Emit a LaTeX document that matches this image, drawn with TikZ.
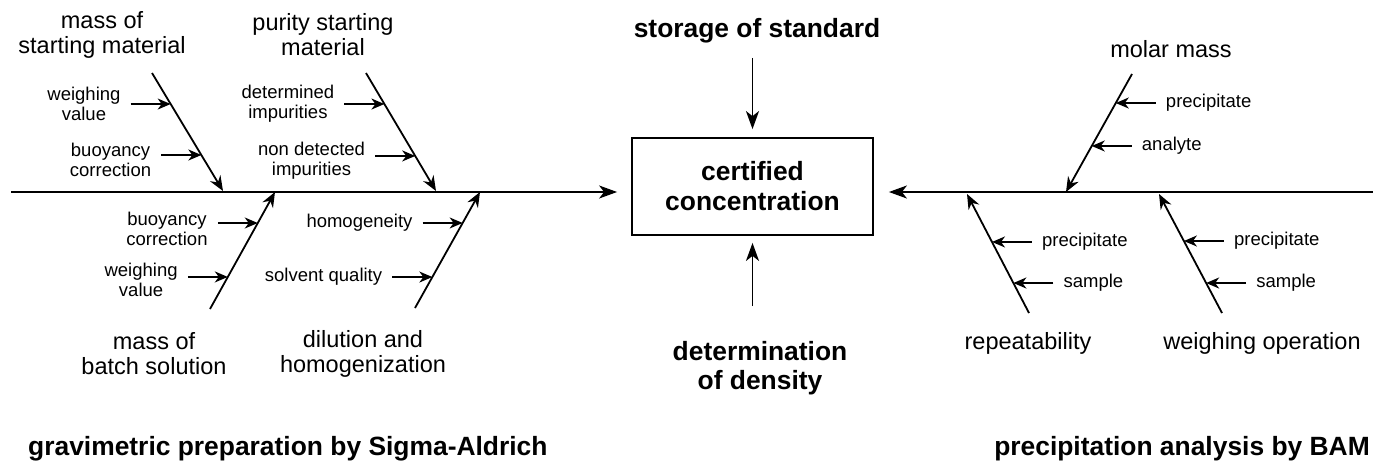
\documentclass[tikz,border=0pt]{standalone}
\usepackage{fontspec}
\setmainfont{Liberation Sans}
\usetikzlibrary{arrows.meta,positioning,calc}

\begin{document}
\begin{tikzpicture}[x=1pt,y=-1pt,
    spine/.style={line width=1.8pt, -{Stealth[length=18pt,width=13pt,inset=5pt]}},
    bone/.style={line width=1.8pt, -{Stealth[length=15pt,width=12pt,inset=5pt]}},
    branch/.style={line width=1.7pt, -{Stealth[length=13pt,width=11pt,inset=4pt]}},
    bigtxt/.style={font=\fontsize{23.5}{25}\selectfont, align=center, inner sep=0pt},
    smalltxt/.style={font=\fontsize{18.5}{20}\selectfont, align=center, inner xsep=10pt, inner ysep=0pt},
    boldtxt/.style={font=\fontsize{26.4}{29}\selectfont\bfseries, align=center, inner sep=0pt}]
    \useasboundingbox (0,0) rectangle (1373,461);

    % Effect box in the middle
    \node[boldtxt, draw, line width=1.8pt, minimum width=241pt, minimum height=97pt,
          font=\fontsize{26.4}{30}\selectfont\bfseries] (cc) at (752.5,186.5) {certified\\concentration};

    % Spines from left and right
    \coordinate (ls) at (11,192);
    \coordinate (rs) at (1373,192);
    \draw[spine, shorten >=14pt] (ls) -- (ls -| cc.west);
    \draw[spine, shorten >=15pt] (rs) -- (rs -| cc.east);

    % Inputs from top and bottom
    \node[boldtxt, anchor=base] (st) at (757,37) {storage of standard};
    \node[boldtxt] (dd) at (760,368) {determination\\of density};
    \draw[spine, shorten <=15pt, shorten >=8pt] (cc.north |- st.south) -- (cc.north);
    \draw[spine, shorten <=35pt, shorten >=7pt] (cc.south |- dd.north) -- (cc.south);

    % ---- gravimetric preparation (left) ----
    % mass of starting material
    \coordinate (b1t) at (152,73);
    \coordinate (b1e) at (223,191);
    \draw[bone] (b1t) -- (b1e);
    \node[bigtxt] (msm) at (102,35) {mass of\\starting material};
    \coordinate (b1a) at ($(b1t)!0.263!(b1e)$);
    \coordinate (b1b) at ($(b1t)!0.695!(b1e)$);
    \node[smalltxt, left=40pt of b1a] (wv1) {weighing\\value};
    \node[smalltxt, left=40pt of b1b, yshift=-5pt] (bc1) {buoyancy\\correction};
    \draw[branch] (wv1.east |- b1a) -- (b1a);
    \draw[branch] (bc1.east |- b1b) -- (b1b);

    % purity starting material
    \coordinate (b2t) at (366,73);
    \coordinate (b2e) at (436,191);
    \draw[bone] (b2t) -- (b2e);
    \node[bigtxt] (psm) at (323,35) {purity starting\\material};
    \coordinate (b2a) at ($(b2t)!0.263!(b2e)$);
    \coordinate (b2b) at ($(b2t)!0.703!(b2e)$);
    \node[smalltxt, left=40pt of b2a] (di) {determined\\impurities};
    \node[smalltxt, left=40pt of b2b, yshift=-5pt] (ndi) {non detected\\impurities};
    \draw[branch] (di.east |- b2a) -- (b2a);
    \draw[branch] (ndi.east |- b2b) -- (b2b);

    % mass of batch solution
    \coordinate (b3t) at (210,309);
    \coordinate (b3e) at (275,192);
    \draw[bone] (b3t) -- (b3e);
    \node[bigtxt] (mbs) at (154,354) {mass of\\batch solution};
    \coordinate (b3a) at ($(b3t)!0.735!(b3e)$);
    \coordinate (b3b) at ($(b3t)!0.274!(b3e)$);
    \node[smalltxt, left=40pt of b3a, yshift=-6pt] (bc2) {buoyancy\\correction};
    \node[smalltxt, left=40pt of b3b, yshift=-3pt] (wv2) {weighing\\value};
    \draw[branch] (bc2.east |- b3a) -- (b3a);
    \draw[branch] (wv2.east |- b3b) -- (b3b);

    % dilution and homogenization
    \coordinate (b4t) at (415,308);
    \coordinate (b4e) at (480,192);
    \draw[bone] (b4t) -- (b4e);
    \node[bigtxt] (dah) at (363,354) {dilution and\\homogenization};
    \coordinate (b4a) at ($(b4t)!0.733!(b4e)$);
    \coordinate (b4b) at ($(b4t)!0.267!(b4e)$);
    \node[smalltxt, left=40pt of b4a] (hom) {homogeneity};
    \node[smalltxt, left=40pt of b4b] (sq) {solvent quality};
    \draw[branch] (hom.east |- b4a) -- (b4a);
    \draw[branch] (sq.east |- b4b) -- (b4b);

    \node[boldtxt, anchor=base west] (gp) at (28,455) {gravimetric preparation by Sigma-Aldrich};

    % ---- precipitation analysis (right) ----
    % molar mass
    \coordinate (b5t) at (1132,74);
    \coordinate (b5e) at (1066,192);
    \draw[bone] (b5t) -- (b5e);
    \node[bigtxt] (mm) at (1171,49) {molar mass};
    \coordinate (b5a) at ($(b5t)!0.246!(b5e)$);
    \coordinate (b5b) at ($(b5t)!0.61!(b5e)$);
    \node[smalltxt, right=40pt of b5a] (pr1) {precipitate};
    \node[smalltxt, right=40pt of b5b] (an) {analyte};
    \draw[branch] (pr1.west |- b5a) -- (b5a);
    \draw[branch] (an.west |- b5b) -- (b5b);

    % repeatability
    \coordinate (b6t) at (1029,313);
    \coordinate (b6e) at (967,194);
    \draw[bone] (b6t) -- (b6e);
    \node[bigtxt] (rep) at (1028,343) {repeatability};
    \coordinate (b6a) at ($(b6t)!0.597!(b6e)$);
    \coordinate (b6b) at ($(b6t)!0.252!(b6e)$);
    \node[smalltxt, right=40pt of b6a] (pr2) {precipitate};
    \node[smalltxt, right=40pt of b6b] (sa1) {sample};
    \draw[branch] (pr2.west |- b6a) -- (b6a);
    \draw[branch] (sa1.west |- b6b) -- (b6b);

    % weighing operation
    \coordinate (b7t) at (1222,313);
    \coordinate (b7e) at (1159,194);
    \draw[bone] (b7t) -- (b7e);
    \node[bigtxt] (wo) at (1262,343) {weighing operation};
    \coordinate (b7a) at ($(b7t)!0.605!(b7e)$);
    \coordinate (b7b) at ($(b7t)!0.252!(b7e)$);
    \node[smalltxt, right=40pt of b7a] (pr3) {precipitate};
    \node[smalltxt, right=40pt of b7b] (sa2) {sample};
    \draw[branch] (pr3.west |- b7a) -- (b7a);
    \draw[branch] (sa2.west |- b7b) -- (b7b);

    \node[boldtxt, anchor=base east] (pa) at (1370,455) {precipitation analysis by BAM};

\end{tikzpicture}
\end{document}
